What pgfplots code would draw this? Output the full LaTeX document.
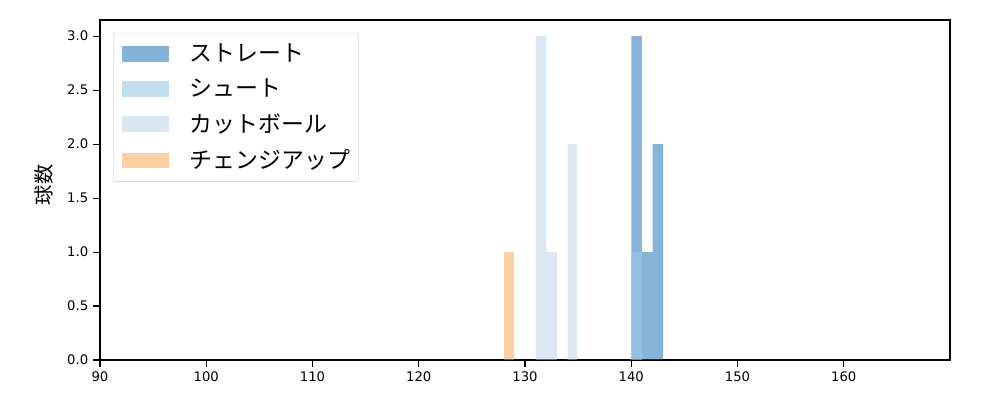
\documentclass[border=0pt]{standalone}
\usepackage{pgfplots}
\pgfplotsset{compat=1.18}
\usepackage{fontspec}
\setmainfont{DejaVu Sans}
\newfontfamily\jp{Noto Sans CJK JP}
\definecolor{cstr}{RGB}{13,103,177}
\definecolor{cshu}{RGB}{153,202,227}
\definecolor{ccut}{RGB}{183,207,231}
\definecolor{cchg}{RGB}{251,159,75}
\begin{document}
\begin{tikzpicture}[x=1pt,y=1pt]
\useasboundingbox (-72,-28.8) rectangle (648,259.2);
\begin{axis}[
  at={(0,0)}, anchor=south west,
  scale only axis, width=612pt, height=244.8pt,
  xmin=90, xmax=170, ymin=0, ymax=3.15,
  xtick={90,100,...,160}, ytick={0,0.5,...,3.0},
  yticklabel style={/pgf/number format/.cd,fixed,fixed zerofill,precision=1},
  /pgf/number format/assume math mode=true,
  ticklabel style={font=\fontsize{9.5}{11}\selectfont},
  tick align=outside, tick style={black, line width=0.8pt},
  major tick length=5pt,
  xtick pos=bottom, ytick pos=left,
  axis line style={black, line width=0.8pt},
  ylabel={\jp 球数},
  ylabel style={font=\fontsize{14.5}{16}\selectfont, at={(axis description cs:-0.0659,0.515)}, anchor=center},
  legend style={at={(0.0153,0.962)}, anchor=north west, draw=black!15, rounded corners=2pt,
    font=\jp\fontsize{16.5}{18}\selectfont, row sep=11pt, column sep=15pt,
    inner xsep=6pt, inner ysep=7.5pt,
    nodes={inner sep=0pt}},
  legend cell align=left,
  area legend,
  legend image code/.code={\fill[#1, sharp corners] (0pt,-5.75pt) rectangle (34pt,5.75pt);},
]
\addplot[ybar interval, fill=cstr, fill opacity=0.5, draw=none] coordinates {(140,3) (141,1) (142,2) (143,0)};
\addlegendentry{ストレート}
\addplot[ybar interval, fill=cshu, fill opacity=0.6, draw=none] coordinates {(140,1) (141,0)};
\addlegendentry{シュート}
\addplot[ybar interval, fill=ccut, fill opacity=0.5, draw=none] coordinates {(131,3) (132,1) (133,0) (134,2) (134.9,0)};
\addlegendentry{カットボール}
\addplot[ybar interval, fill=cchg, fill opacity=0.5, draw=none] coordinates {(128,1) (128.95,0)};
\addlegendentry{チェンジアップ}
\end{axis}
\end{tikzpicture}
\end{document}
